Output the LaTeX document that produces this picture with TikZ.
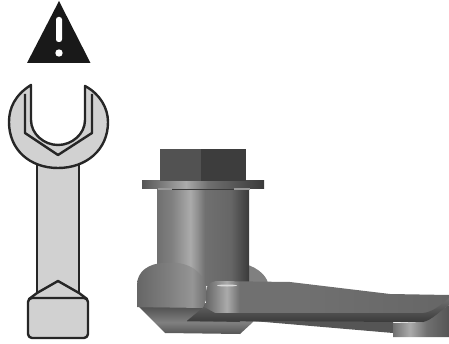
\documentclass[tikz,border=0pt]{standalone}
\usepackage{xcolor}
\usepackage{tikz}

\definecolor{gA}{HTML}{3A3A3A}
\definecolor{gB}{HTML}{555555}
\definecolor{gC}{HTML}{666666}
\definecolor{gD}{HTML}{707070}
\definecolor{gE}{HTML}{808080}
\definecolor{gF}{HTML}{909090}
\definecolor{gG}{HTML}{ABABAB}

\pgfdeclarehorizontalshading{bodyshade}{100bp}{color(0bp)=(gD);color(25bp)=(gD);color(33bp)=(gE);color(43bp)=(gG);color(47bp)=(gF);color(51bp)=(gD);color(65bp)=(gC);color(75bp)=(gA);color(100bp)=(gA)}
\pgfdeclarehorizontalshading{flangeshade}{100bp}{color(0bp)=(gB);color(25bp)=(gB);color(43bp)=(gG);color(52bp)=(gD);color(75bp)=(gA);color(100bp)=(gA)}
\pgfdeclarehorizontalshading{blobshade}{100bp}{color(0bp)=(gC);color(25bp)=(gC);color(34bp)=(gD);color(49bp)=(gE);color(65bp)=(gF!80!gG);color(75bp)=(gD);color(100bp)=(gD)}
\pgfdeclarehorizontalshading{armshade}{100bp}{color(0bp)=(gC);color(25bp)=(gC);color(28.6bp)=(gC);color(32.6bp)=(gG);color(35bp)=(gD);color(47bp)=(gD);color(75bp)=(gC);color(100bp)=(gC)}
\pgfdeclarehorizontalshading{lugshade}{100bp}{color(0bp)=(gD);color(25bp)=(gD);color(40bp)=(gG);color(55bp)=(gD);color(75bp)=(gB);color(100bp)=(gB)}
\pgfdeclareverticalshading{taperedge}{100bp}{color(0bp)=(gB);color(25bp)=(gB);color(44bp)=(gE);color(67bp)=(gB);color(75bp)=(gC);color(100bp)=(gC)}
\pgfdeclareverticalshading{armedge}{100bp}{color(0bp)=(gA);color(25bp)=(gA);color(75bp)=(gD);color(100bp)=(gD)}

\begin{document}
\begin{tikzpicture}[
        x=1pt, y=-1pt,
        toolline/.style={
            draw=black!85,
            line width=2.4pt,
            line join=round
        },
        toolfill/.style={
            toolline,
            fill=black!18
        }
    ]
    \useasboundingbox (0, 0) rectangle (449, 344);

    % Warning sign
    \fill[black!90] (59, 1) -- (90.5, 63) -- (27, 63) -- cycle;
    \fill[white, rounded corners=2.5pt] (56, 17) rectangle (62, 42);
    \fill[white] (59, 53) circle (3.7);

    % Wrench
    \draw[toolfill] (37, 160) rectangle (79, 296);
    \draw[toolfill] (31, 85) .. controls (15, 95) and (9, 108) .. (9, 122)
        .. controls (9, 150) and (30, 168) .. (58, 168)
        .. controls (86, 168) and (108, 150) .. (108, 122)
        .. controls (108, 108) and (100, 94) .. (85, 86)
        -- (85, 120)
        .. controls (85, 134) and (72, 145) .. (58, 145)
        .. controls (44, 145) and (31, 134) .. (31, 120)
        -- cycle;
    \draw[toolline] (25, 94) -- (25, 133) -- (58, 155) -- (92, 133) -- (92, 94);
    \draw[toolfill] (37, 293) -- (58, 281) -- (79, 293) -- (87, 299) -- (29, 299) -- cycle;
    \draw[toolfill, rounded corners=4pt] (28, 298) rectangle (88, 338);

    % Back of the socket
    \fill[gE] (240, 263) .. controls (254, 265) and (266, 274) .. (268, 283)
        -- (268, 300) -- (240, 300) -- cycle;

    % Lower lug
    \fill[gB] (253, 321) -- (393, 333) -- (393, 321) -- cycle;
    \shade[shading=lugshade] (393, 323) -- (423, 322) -- (449, 305) -- (449, 337) -- (393, 337) -- cycle;

    % Socket
    \shade[shading=bodyshade] (157, 187) rectangle (249, 285);

    % Left boss
    \shade[shading=taperedge] (137, 305) -- (165, 333) -- (240, 334)
        -- (253, 322) -- (253, 303) -- (137, 303) -- cycle;
    \shade[shading=blobshade] (137, 307) -- (137, 285)
        .. controls (137, 272) and (148, 263) .. (165, 263)
        .. controls (185, 261) and (200, 268) .. (206, 285)
        -- (206, 300) -- (203, 308) -- cycle;

    % Arm
    \fill[gA] (187, 321) -- (204, 307) -- (230, 300) -- (240, 322) -- cycle;
    \shade[shading=armshade] (206, 292) .. controls (206, 285) and (210, 282) .. (216, 281)
        -- (290, 282) -- (390, 294) -- (449, 295) -- (449, 305)
        .. controls (440, 311) and (432, 320) .. (423, 322)
        -- (187, 321) -- (204, 307) -- (206, 303) -- cycle;
    \shade[shading=armedge] (204, 307) -- (187, 321) -- (423, 322)
        .. controls (432, 320) and (440, 311) .. (449, 305)
        -- (449, 298) .. controls (440, 306) and (432, 312) .. (423, 313)
        -- (215, 313) -- cycle;
    \fill[black!15] (227, 285.5) ellipse (10 and 1);

    % Flange and bolt head
    \shade[shading=flangeshade] (142, 181) rectangle (264, 189);
    \fill[gA] (172, 189) rectangle (234, 190);
    \fill[black!40] (158, 188.5) rectangle (172, 190.5);
    \fill[black!40] (234, 188.5) rectangle (250, 190.5);
    \fill[black!68] (160, 149) rectangle (201, 181);
    \fill[black!76] (201, 149) rectangle (246, 181);

\end{tikzpicture}
\end{document}
